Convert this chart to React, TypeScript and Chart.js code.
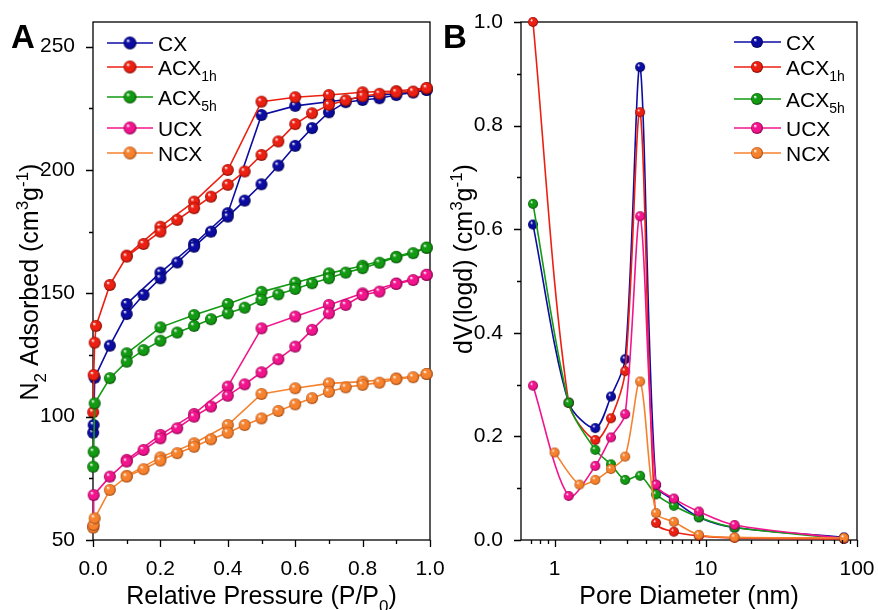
import { useEffect, useRef } from 'react';
import { Chart, registerables } from 'chart.js';

Chart.register(...registerables);

const FONT = '"Liberation Sans", Arial, Helvetica, sans-serif';

// ---------- series meta ----------
const seriesNames = ['CX', 'ACX1h', 'ACX5h', 'UCX', 'NCX'];
const seriesColors = ['#0c0ca2', '#ec2012', '#129a12', '#f2148c', '#f6822e'];
const seriesDark = ['#00004a', '#7a0800', '#034a03', '#7a0046', '#9a4510'];

// ---------- Panel A: N2 isotherms ----------
const lowP = [0.0005, 0.002, 0.005, 0.009];
const adsP = [0.05, 0.1, 0.15, 0.2, 0.25, 0.3, 0.35, 0.4, 0.45, 0.5, 0.55, 0.6, 0.65, 0.7, 0.75, 0.8, 0.85, 0.9, 0.95, 0.99];
const desP = [0.99, 0.9, 0.8, 0.7, 0.6, 0.5, 0.4, 0.3, 0.2, 0.1];

const cxLow = [93.5, 96.6, 115.8];
const cxAds = [128.8, 141.6, 149.4, 156.1, 162.5, 168.9, 175.0, 181.1, 187.6, 194.2, 201.8, 209.8, 217.0, 223.4, 227.5, 228.4, 229.1, 230.4, 231.4, 232.5];
const cxDes = [232.5, 231.0, 229.5, 227.7, 226.0, 222.3, 182.5, 170.0, 158.4, 145.7];

const acx1hLow = [101.8, 116.9, 130.0, 136.8];
const acx1hAds = [153.4, 164.9, 170.0, 175.0, 179.8, 184.5, 189.2, 194.0, 199.4, 206.1, 211.6, 218.6, 223.0, 226.4, 228.3, 229.9, 230.9, 231.5, 231.8, 233.2];
const acx1hDes = [233.2, 232.0, 231.5, 230.4, 229.5, 227.7, 200.0, 187.2, 177.0, 165.3];

const acx5hLow = [79.7, 85.8, 105.4];
const acx5hAds = [115.6, 122.3, 127.0, 130.8, 134.1, 136.8, 139.5, 141.9, 144.2, 147.3, 149.6, 151.8, 154.1, 156.1, 158.4, 160.2, 162.4, 164.6, 166.3, 168.5];
const acx5hDes = [168.5, 164.8, 161.2, 158.1, 154.3, 150.6, 145.7, 141.2, 136.2, 125.7];

const ucxLow = [55.4, 68.2];
const ucxAds = [75.7, 81.8, 86.5, 91.2, 95.3, 100.0, 104.1, 108.5, 113.1, 118.0, 123.3, 128.4, 135.2, 141.9, 145.3, 149.3, 150.7, 153.8, 155.4, 157.5];
const ucxDes = [157.5, 154.0, 150.0, 145.3, 140.6, 135.8, 112.2, 101.1, 92.6, 82.5];

const ncxLow = [55.0, 56.1, 58.8];
const ncxAds = [70.3, 75.7, 78.7, 82.2, 85.2, 87.8, 90.8, 93.5, 96.6, 99.3, 102.3, 105.0, 107.5, 110.1, 111.9, 112.9, 113.8, 115.2, 116.0, 117.3];
const ncxDes = [117.3, 115.5, 114.2, 113.5, 111.5, 109.2, 96.6, 89.2, 83.5, 76.0];

const isoLow = [cxLow, acx1hLow, acx5hLow, ucxLow, ncxLow];
const isoAds = [cxAds, acx1hAds, acx5hAds, ucxAds, ncxAds];
const isoDes = [cxDes, acx1hDes, acx5hDes, ucxDes, ncxDes];

const aXTicks = [0, 0.2, 0.4, 0.6, 0.8, 1.0];
const aXMinor = [0.1, 0.3, 0.5, 0.7, 0.9];
const aYTicks = [50, 100, 150, 200, 250];
const aYMinor = [75, 125, 175, 225];

// ---------- Panel B: pore size distribution ----------
const poreD = [0.72, 1.0, 1.24, 1.46, 1.86, 2.36, 2.93, 3.68, 4.69, 6.15, 9.0, 15.5, 82];
const cxPsd = [0.609, null, 0.265, null, 0.216, 0.277, 0.349, 0.913, 0.106, 0.077, 0.044, 0.024, 0.005];
const acx1hPsd = [1.0, null, 0.265, null, 0.193, 0.235, 0.326, 0.826, 0.033, 0.016, 0.008, 0.004, 0.002];
const acx5hPsd = [0.649, null, 0.265, null, 0.174, 0.146, 0.116, 0.124, 0.088, 0.066, 0.044, 0.024, 0.003];
const ucxPsd = [0.298, null, 0.085, null, 0.143, 0.198, 0.243, 0.625, 0.107, 0.080, 0.055, 0.029, 0.003];
const ncxPsd = [null, 0.169, null, 0.107, 0.116, 0.137, 0.161, 0.306, 0.052, 0.035, 0.010, 0.005, 0.004];
const psd = [cxPsd, acx1hPsd, acx5hPsd, ucxPsd, ncxPsd];

const bXTicks = [1, 10, 100];
const bXMinor = [0.7, 0.8, 0.9, 2, 3, 4, 5, 6, 7, 8, 9, 20, 30, 40, 50, 60, 70, 80, 90];
const bYTicks = [0, 0.2, 0.4, 0.6, 0.8, 1.0];
const bYMinor = [0.1, 0.3, 0.5, 0.7, 0.9];

// ---------- helpers ----------
type Seg = { t: string; s?: 'sub' | 'sup' };

function legendSegs(name: string): Seg[] {
  if (name === 'ACX1h') return [{ t: 'ACX' }, { t: '1h', s: 'sub' }];
  if (name === 'ACX5h') return [{ t: 'ACX' }, { t: '5h', s: 'sub' }];
  return [{ t: name }];
}

function segFont(size: number, s?: string) {
  return `${s ? Math.round(size * 0.68) : size}px ${FONT}`;
}

function richWidth(ctx: CanvasRenderingContext2D, segs: Seg[], size: number) {
  let w = 0;
  for (const sg of segs) {
    ctx.font = segFont(size, sg.s);
    w += ctx.measureText(sg.t).width;
  }
  return w;
}

function drawRich(ctx: CanvasRenderingContext2D, segs: Seg[], x: number, y: number, size: number, align: 'left' | 'center') {
  const w = richWidth(ctx, segs, size);
  let cx = align === 'center' ? x - w / 2 : x;
  ctx.textAlign = 'left';
  ctx.textBaseline = 'alphabetic';
  for (const sg of segs) {
    ctx.font = segFont(size, sg.s);
    const dy = sg.s === 'sub' ? size * 0.3 : sg.s === 'sup' ? -size * 0.4 : 0;
    ctx.fillText(sg.t, cx, y + dy);
    cx += ctx.measureText(sg.t).width;
  }
}

function makeBall(color: string, dark: string, d: number) {
  const s = d + 2;
  const c = document.createElement('canvas');
  c.width = s;
  c.height = s;
  const g = c.getContext('2d')!;
  const r = d / 2;
  const cx = s / 2;
  const cy = s / 2;
  const grad = g.createRadialGradient(cx - r * 0.35, cy - r * 0.4, r * 0.05, cx, cy, r);
  grad.addColorStop(0, '#ffffff');
  grad.addColorStop(0.28, color);
  grad.addColorStop(0.75, color);
  grad.addColorStop(1, dark);
  g.fillStyle = grad;
  g.beginPath();
  g.arc(cx, cy, r, 0, Math.PI * 2);
  g.fill();
  return c;
}

interface DecoCfg {
  xMajor: number[];
  xMinor: number[];
  yMajor: number[];
  yMinor: number[];
  letter: string;
  letterX: number;
  xTitle: Seg[];
  xTitleY: number;
  yTitle: Seg[];
  yTitleX: number;
  yTitleY: number;
  legendY: number[];
  legendLine: [number, number];
  legendBallX: number;
  legendTextX: number;
  balls: HTMLCanvasElement[];
}

const TITLE_SIZE = 25;
const LEGEND_SIZE = 21;

function makeDeco(cfg: DecoCfg) {
  return {
    id: 'deco' + cfg.letter,
    beforeDatasetsDraw(chart: any) {
      const { ctx, chartArea: ca } = chart;
      ctx.save();
      ctx.strokeStyle = '#000';
      ctx.lineWidth = 1.3;
      ctx.strokeRect(ca.left, ca.top, ca.right - ca.left, ca.bottom - ca.top);
      ctx.restore();
    },
    afterDraw(chart: any) {
      const { ctx, chartArea: ca } = chart;
      const xs = chart.scales.x;
      const ys = chart.scales.y;
      ctx.save();
      ctx.strokeStyle = '#000';
      ctx.lineWidth = 1.3;
      ctx.beginPath();
      for (const v of cfg.xMajor) {
        const p = Math.round(xs.getPixelForValue(v)) + 0.5;
        ctx.moveTo(p, ca.bottom);
        ctx.lineTo(p, ca.bottom + 7);
      }
      for (const v of cfg.xMinor) {
        const p = Math.round(xs.getPixelForValue(v)) + 0.5;
        ctx.moveTo(p, ca.bottom);
        ctx.lineTo(p, ca.bottom + 4);
      }
      for (const v of cfg.yMajor) {
        const p = Math.round(ys.getPixelForValue(v)) + 0.5;
        ctx.moveTo(ca.left, p);
        ctx.lineTo(ca.left - 7, p);
      }
      for (const v of cfg.yMinor) {
        const p = Math.round(ys.getPixelForValue(v)) + 0.5;
        ctx.moveTo(ca.left, p);
        ctx.lineTo(ca.left - 4, p);
      }
      ctx.stroke();

      ctx.fillStyle = '#000';
      // panel letter
      ctx.font = `bold 33px ${FONT}`;
      ctx.textAlign = 'left';
      ctx.textBaseline = 'alphabetic';
      ctx.fillText(cfg.letter, cfg.letterX, 48);

      // axis titles
      drawRich(ctx, cfg.xTitle, (ca.left + ca.right) / 2, cfg.xTitleY, TITLE_SIZE, 'center');
      ctx.save();
      ctx.translate(cfg.yTitleX, cfg.yTitleY);
      ctx.rotate(-Math.PI / 2);
      drawRich(ctx, cfg.yTitle, 0, 0, TITLE_SIZE, 'center');
      ctx.restore();

      // legend
      seriesNames.forEach((name, i) => {
        const y = cfg.legendY[i];
        ctx.strokeStyle = seriesColors[i];
        ctx.lineWidth = 1.6;
        ctx.beginPath();
        ctx.moveTo(cfg.legendLine[0], y);
        ctx.lineTo(cfg.legendLine[1], y);
        ctx.stroke();
        const b = cfg.balls[i];
        ctx.drawImage(b, cfg.legendBallX - b.width / 2, y - b.height / 2);
        ctx.fillStyle = '#000';
        drawRich(ctx, legendSegs(name), cfg.legendTextX, y + 7.5, LEGEND_SIZE, 'left');
      });
      ctx.restore();
    },
  };
}

function fixedAxis(width: number | null, height: number | null) {
  return (s: any) => {
    if (width !== null) s.width = width;
    if (height !== null) s.height = height;
    s.paddingLeft = 0;
    s.paddingRight = 0;
    s.paddingTop = 0;
    s.paddingBottom = 0;
  };
}

const tickFont = { family: FONT, size: 21 };

export default function App() {
  const refA = useRef<HTMLCanvasElement>(null);
  const refB = useRef<HTMLCanvasElement>(null);

  useEffect(() => {
    const ballsA = seriesColors.map((c, i) => makeBall(c, seriesDark[i], 12));
    const ballsB = seriesColors.map((c, i) => makeBall(c, seriesDark[i], 10));
    const ballsLegA = seriesColors.map((c, i) => makeBall(c, seriesDark[i], 13));
    const ballsLegB = seriesColors.map((c, i) => makeBall(c, seriesDark[i], 12));

    // ---- Panel A datasets ----
    const dsA: any[] = [];
    seriesNames.forEach((name, i) => {
      const ads = [
        ...isoLow[i].map((v, k) => ({ x: lowP[k], y: v })),
        ...isoAds[i].map((v, k) => ({ x: adsP[k], y: v })),
      ];
      const des = isoDes[i].map((v, k) => ({ x: desP[k], y: v }));
      const common = {
        borderColor: seriesColors[i],
        backgroundColor: seriesColors[i],
        borderWidth: 1.6,
        pointStyle: ballsA[i],
        pointRadius: 6,
        tension: 0,
        clip: false,
        order: 10 - i,
      };
      dsA.push({ label: name + ' ads', data: ads, ...common });
      dsA.push({ label: name + ' des', data: des, ...common });
    });

    const chartA = new Chart(refA.current!, {
      type: 'line',
      data: { datasets: dsA },
      options: {
        animation: false,
        responsive: false,
        events: [],
        layout: { padding: { left: 0, right: 40, top: 22, bottom: 0 } },
        plugins: { legend: { display: false }, tooltip: { enabled: false } },
        scales: {
          x: {
            type: 'linear',
            min: 0,
            max: 1,
            afterBuildTicks: (s: any) => {
              s.ticks = aXTicks.map((v) => ({ value: v }));
            },
            afterFit: fixedAxis(null, 70),
            grid: { display: false },
            border: { display: false },
            ticks: { font: tickFont, color: '#000', padding: 9, maxRotation: 0, autoSkip: false, callback: (v: any) => Number(v).toFixed(1) },
          },
          y: {
            type: 'linear',
            min: 50,
            max: 260,
            afterBuildTicks: (s: any) => {
              s.ticks = aYTicks.map((v) => ({ value: v }));
            },
            afterFit: fixedAxis(93, null),
            grid: { display: false },
            border: { display: false },
            ticks: { font: tickFont, color: '#000', padding: 10, autoSkip: false, callback: (v: any) => String(v) },
          },
        },
      },
      plugins: [
        makeDeco({
          xMajor: aXTicks,
          xMinor: aXMinor,
          yMajor: aYTicks,
          yMinor: aYMinor,
          letter: 'A',
          letterX: 11,
          xTitle: [{ t: 'Relative Pressure (P/P' }, { t: '0', s: 'sub' }, { t: ')' }],
          xTitleY: 604,
          yTitle: [
            { t: 'N' },
            { t: '2', s: 'sub' },
            { t: ' Adsorbed (cm' },
            { t: '3', s: 'sup' },
            { t: 'g' },
            { t: '-1', s: 'sup' },
            { t: ')' },
          ],
          yTitleX: 38,
          yTitleY: 282,
          legendY: [43, 67, 97, 128, 153],
          legendLine: [107, 153],
          legendBallX: 130,
          legendTextX: 158,
          balls: ballsLegA,
        }),
      ],
    } as any);

    // ---- Panel B datasets ----
    const dsB: any[] = seriesNames.map((name, i) => ({
      label: name,
      data: poreD
        .map((d, k) => ({ x: d, y: psd[i][k] }))
        .filter((p) => p.y !== null),
      borderColor: seriesColors[i],
      backgroundColor: seriesColors[i],
      borderWidth: 1.6,
      pointStyle: ballsB[i],
      pointRadius: 5,
      tension: 0.3,
      clip: false,
      order: 10 - i,
    }));

    const chartB = new Chart(refB.current!, {
      type: 'line',
      data: { datasets: dsB },
      options: {
        animation: false,
        responsive: false,
        events: [],
        layout: { padding: { left: 0, right: 21, top: 22, bottom: 0 } },
        plugins: { legend: { display: false }, tooltip: { enabled: false } },
        scales: {
          x: {
            type: 'logarithmic',
            min: 0.607,
            max: 100,
            afterBuildTicks: (s: any) => {
              s.ticks = bXTicks.map((v) => ({ value: v }));
            },
            afterFit: fixedAxis(null, 70),
            grid: { display: false },
            border: { display: false },
            ticks: { font: tickFont, color: '#000', padding: 9, maxRotation: 0, autoSkip: false, callback: (v: any) => String(v) },
          },
          y: {
            type: 'linear',
            min: 0,
            max: 1,
            afterBuildTicks: (s: any) => {
              s.ticks = bYTicks.map((v) => ({ value: v }));
            },
            afterFit: fixedAxis(81, null),
            grid: { display: false },
            border: { display: false },
            ticks: { font: tickFont, color: '#000', padding: 10, autoSkip: false, callback: (v: any) => Number(v).toFixed(1) },
          },
        },
      },
      plugins: [
        makeDeco({
          xMajor: bXTicks,
          xMinor: bXMinor,
          yMajor: bYTicks,
          yMinor: bYMinor,
          letter: 'B',
          letterX: 3,
          xTitle: [{ t: 'Pore Diameter (nm)' }],
          xTitleY: 604,
          yTitle: [
            { t: 'dV(logd) (cm' },
            { t: '3', s: 'sup' },
            { t: 'g' },
            { t: '-1', s: 'sup' },
            { t: ')' },
          ],
          yTitleX: 32,
          yTitleY: 259,
          legendY: [42, 67, 99, 128, 153],
          legendLine: [294, 341],
          legendBallX: 317,
          legendTextX: 346,
          balls: ballsLegB,
        }),
      ],
    } as any);

    return () => {
      chartA.destroy();
      chartB.destroy();
    };
  }, []);

  return (
    <div style={{ position: 'absolute', left: 0, top: 0, width: 878, height: 610, background: '#fff' }}>
      <canvas ref={refA} width={470} height={610} style={{ position: 'absolute', left: 0, top: 0 }} />
      <canvas ref={refB} width={438} height={610} style={{ position: 'absolute', left: 440, top: 0 }} />
    </div>
  );
}
